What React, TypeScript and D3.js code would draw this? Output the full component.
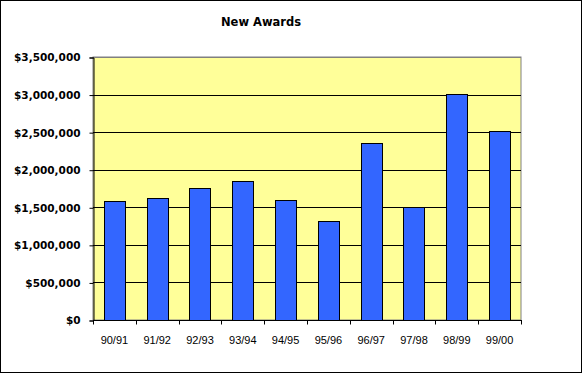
import React from "react";
import * as d3 from "d3";

const categories = ["90/91", "91/92", "92/93", "93/94", "94/95", "95/96", "96/97", "97/98", "98/99", "99/00"];
const awards = [1585000, 1620000, 1755000, 1845000, 1595000, 1315000, 2355000, 1500000, 3005000, 2510000];
const yTicks = [0, 500000, 1000000, 1500000, 2000000, 2500000, 3000000, 3500000];

export default function App() {
  const width = 583;
  const height = 374;
  const left = 93;
  const right = 521;
  const top = 57;
  const bottom = 320;

  const svgRef = React.useRef<SVGSVGElement>(null);

  React.useEffect(() => {
    const svg = d3.select(svgRef.current);
    svg.selectAll("*").remove();

    const x = d3.scaleBand().domain(categories).range([left, right]).paddingInner(0.5).paddingOuter(0.25);
    const xEdges = d3.scaleBand().domain(categories).range([left, right]);
    const y = d3.scaleLinear().domain([0, 3500000]).range([bottom, top]);

    // outer frame
    svg.append("rect")
      .attr("x", 0.5).attr("y", 0.5)
      .attr("width", width - 2).attr("height", height - 2)
      .attr("fill", "white").attr("stroke", "black");

    svg.append("text")
      .attr("x", 261).attr("y", 26)
      .attr("text-anchor", "middle")
      .style("font-family", "'DejaVu Sans', sans-serif")
      .style("font-weight", "bold")
      .style("font-size", "11.5px")
      .text("New Awards");

    // plot area
    svg.append("rect")
      .attr("x", left).attr("y", top)
      .attr("width", right - left).attr("height", bottom - top)
      .attr("fill", "#ffff99").attr("stroke", "#808080");

    svg.append("g")
      .selectAll("line")
      .data(yTicks.slice(1))
      .join("line")
      .attr("x1", left).attr("x2", right)
      .attr("y1", (d) => Math.round(y(d)) + 0.5).attr("y2", (d) => Math.round(y(d)) + 0.5)
      .attr("stroke", (d) => (d === 3500000 ? "#808080" : "black"));

    svg.append("g")
      .selectAll("rect")
      .data(awards)
      .join("rect")
      .attr("x", (d, i) => Math.round(x(categories[i])!) + 0.5)
      .attr("y", (d) => Math.round(y(d)) + 0.5)
      .attr("width", Math.round(x.bandwidth()))
      .attr("height", (d) => Math.round(bottom - y(d)))
      .attr("fill", "#3366ff")
      .attr("stroke", "black");

    // y axis
    const yAxis = d3.axisLeft(y).tickValues(yTicks).tickSize(4).tickPadding(9)
      .tickFormat((d) => "$" + d3.format(",")(d as number));
    svg.append("g")
      .attr("transform", `translate(${left + 0.5},0.5)`)
      .call(yAxis)
      .call((g) => g.select(".domain").attr("stroke", "black"))
      .selectAll("text")
      .style("font-family", "'DejaVu Sans', sans-serif")
      .style("font-weight", "bold")
      .style("font-size", "10.5px")
      .attr("fill", "black");

    // x axis: ticks at band edges
    const xg = svg.append("g").attr("transform", `translate(0,${bottom + 0.5})`);
    xg.append("line").attr("x1", left).attr("x2", right + 1).attr("stroke", "black");
    xg.selectAll("line.tick")
      .data([...categories.map((c) => xEdges(c)!), right])
      .join("line")
      .attr("class", "tick")
      .attr("x1", (d) => Math.round(d) + 0.5).attr("x2", (d) => Math.round(d) + 0.5)
      .attr("y1", 0).attr("y2", 4)
      .attr("stroke", "black");
    xg.selectAll("text")
      .data(categories)
      .join("text")
      .attr("x", (d) => xEdges(d)! + xEdges.bandwidth() / 2)
      .attr("y", 23)
      .attr("text-anchor", "middle")
      .style("font-family", "'Liberation Sans', Arial, sans-serif")
      .style("font-size", "11px")
      .text((d) => d);
  }, []);

  return (
    <svg ref={svgRef} width={width} height={height} style={{ position: "absolute", left: 0, top: 0 }} />
  );
}
